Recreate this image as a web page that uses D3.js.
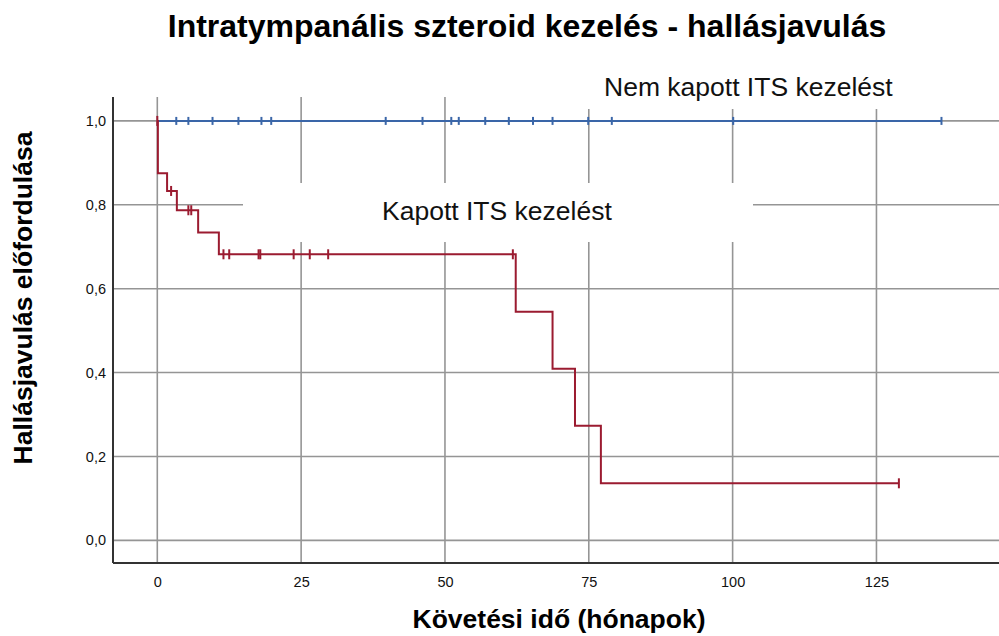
<!DOCTYPE html>
<html>
<head>
<meta charset="utf-8">
<script src="https://cdn.jsdelivr.net/npm/d3@7"></script>
<style>
  html, body { margin: 0; padding: 0; background: #fff; }
  svg { display: block; font-family: "Liberation Sans", Arial, sans-serif; }
</style>
</head>
<body>
<svg id="chart" width="999" height="636"></svg>
<script>
// Kaplan–Meier estimate of hearing improvement, by intratympanic steroid treatment

// Treated group ("Kapott ITS kezelést"): event times (months) and survival after each step
const treatedEventTimes = [0.1, 1.7, 3.4, 7.1, 10.7, 62.3, 68.7, 72.6, 77.1];
const treatedSurvival   = [0.875, 0.833, 0.787, 0.734, 0.682, 0.545, 0.409, 0.273, 0.136];
const treatedEnd = 128.9;
const treatedCensored = [0, 2.4, 5.4, 5.9, 11.5, 12.5, 17.6, 17.9, 23.7, 26.5, 29.7, 61.8, 128.9];

// Untreated group ("Nem kapott ITS kezelést"): no events, censored follow-up times
const untreatedEnd = 136.3;
const untreatedCensored = [3.3, 5.4, 9.6, 14.1, 18.1, 19.8, 39.7, 46.1, 51.1, 52.4, 57.0,
                           61.1, 65.3, 68.7, 74.9, 79.0, 100.1, 136.3];

const xTicks = [0, 25, 50, 75, 100, 125];
const yTicks = [0, 0.2, 0.4, 0.6, 0.8, 1.0];

const titleText = "Intratympanális szteroid kezelés - hallásjavulás";
const xTitle = "Követési idő (hónapok)";
const yTitle = "Hallásjavulás előfordulása";
const treatedLabel = "Kapott ITS kezelést";
const untreatedLabel = "Nem kapott ITS kezelést";

const colTreated = "#9b1b30";
const colUntreated = "#3a66a8";

const svg = d3.select("#chart");
const plotLeft = 113, plotRight = 999, plotTop = 97, plotBottom = 563;

const x = d3.scaleLinear().domain([-7.7, 146.3]).range([plotLeft, plotRight]);
const y = d3.scaleLinear().domain([-0.054, 1.057]).range([plotBottom, plotTop]);

// grid
const grid = svg.append("g");
grid.selectAll("line.h").data(yTicks).join("line").attr("class", "h")
  .attr("x1", plotLeft).attr("x2", plotRight)
  .attr("y1", d => y(d)).attr("y2", d => y(d))
  .attr("stroke", "#959595").attr("stroke-width", 1.6);
grid.selectAll("line.v").data(xTicks).join("line").attr("class", "v")
  .attr("y1", plotTop).attr("y2", plotBottom)
  .attr("x1", d => x(d)).attr("x2", d => x(d))
  .attr("stroke", "#959595").attr("stroke-width", 1.6);

// white backgrounds behind the group labels
svg.append("rect").attr("x", 530).attr("y", plotTop - 1).attr("width", plotRight - 530).attr("height", 13)
  .attr("fill", "#fff");
svg.append("rect").attr("x", 243).attr("y", 183).attr("width", 510).attr("height", 59)
  .attr("fill", "#fff");

// axes lines (no outward ticks)
const xAxis = d3.axisBottom(x).tickValues(xTicks).tickSize(0).tickPadding(14)
  .tickFormat(d3.format("d"));
const gx = svg.append("g").attr("transform", `translate(0,${plotBottom})`).call(xAxis);
gx.select(".domain").attr("d", `M${plotLeft},0H${plotRight}`).attr("stroke", "#333").attr("stroke-width", 2);
gx.selectAll("text").attr("font-size", 14.5).attr("fill", "#111")
  .attr("font-family", "'Liberation Sans', Arial, sans-serif");

const yAxis = d3.axisLeft(y).tickValues(yTicks).tickSize(0).tickPadding(7)
  .tickFormat(d => d3.format(".1f")(d).replace(".", ","));
const gy = svg.append("g").attr("transform", `translate(${plotLeft},0)`).call(yAxis);
gy.select(".domain").attr("d", `M0,${plotTop}V${plotBottom}`).attr("stroke", "#333").attr("stroke-width", 2);
gy.selectAll("text").attr("font-size", 14.5).attr("fill", "#111")
  .attr("font-family", "'Liberation Sans', Arial, sans-serif");

// step curves
const stepLine = d3.line().x(d => x(d[0])).y(d => y(d[1])).curve(d3.curveStepAfter);

const treatedPts = [[0, 1]].concat(treatedEventTimes.map((t, i) => [t, treatedSurvival[i]]));
treatedPts.push([treatedEnd, treatedSurvival[treatedSurvival.length - 1]]);
function treatedAt(t) {
  let s = 1;
  treatedEventTimes.forEach((e, i) => { if (t >= e) s = treatedSurvival[i]; });
  return s;
}

const untreatedPts = [[0, 1], [untreatedEnd, 1]];

svg.append("path").datum(untreatedPts).attr("d", stepLine)
  .attr("fill", "none").attr("stroke", colUntreated).attr("stroke-width", 2);
svg.selectAll("line.cu").data(untreatedCensored).join("line").attr("class", "cu")
  .attr("x1", d => x(d)).attr("x2", d => x(d))
  .attr("y1", y(1) - 4).attr("y2", y(1) + 4)
  .attr("stroke", colUntreated).attr("stroke-width", 2);

svg.append("path").datum(treatedPts).attr("d", stepLine)
  .attr("fill", "none").attr("stroke", colTreated).attr("stroke-width", 2);
svg.selectAll("line.ct").data(treatedCensored).join("line").attr("class", "ct")
  .attr("x1", d => x(d)).attr("x2", d => x(d))
  .attr("y1", d => y(d === 0 ? 1 : treatedAt(d)) - 5).attr("y2", d => y(d === 0 ? 1 : treatedAt(d)) + 5)
  .attr("stroke", colTreated).attr("stroke-width", 2);

// group labels
svg.append("text").attr("x", 604).attr("y", 96).attr("font-size", 26.5).attr("fill", "#111")
  .text(untreatedLabel);
svg.append("text").attr("x", 382).attr("y", 220).attr("font-size", 26.5).attr("fill", "#111")
  .text(treatedLabel);

// titles
svg.append("text").attr("x", 527).attr("y", 37).attr("text-anchor", "middle")
  .attr("font-size", 32).attr("font-weight", "bold").attr("fill", "#000").text(titleText);
svg.append("text").attr("x", 559).attr("y", 628).attr("text-anchor", "middle")
  .attr("font-size", 26.5).attr("font-weight", "bold").attr("fill", "#000").text(xTitle);
svg.append("text").attr("transform", "translate(32,298) rotate(-90)").attr("text-anchor", "middle")
  .attr("font-size", 26.5).attr("font-weight", "bold").attr("fill", "#000").text(yTitle);
</script>
</body>
</html>
